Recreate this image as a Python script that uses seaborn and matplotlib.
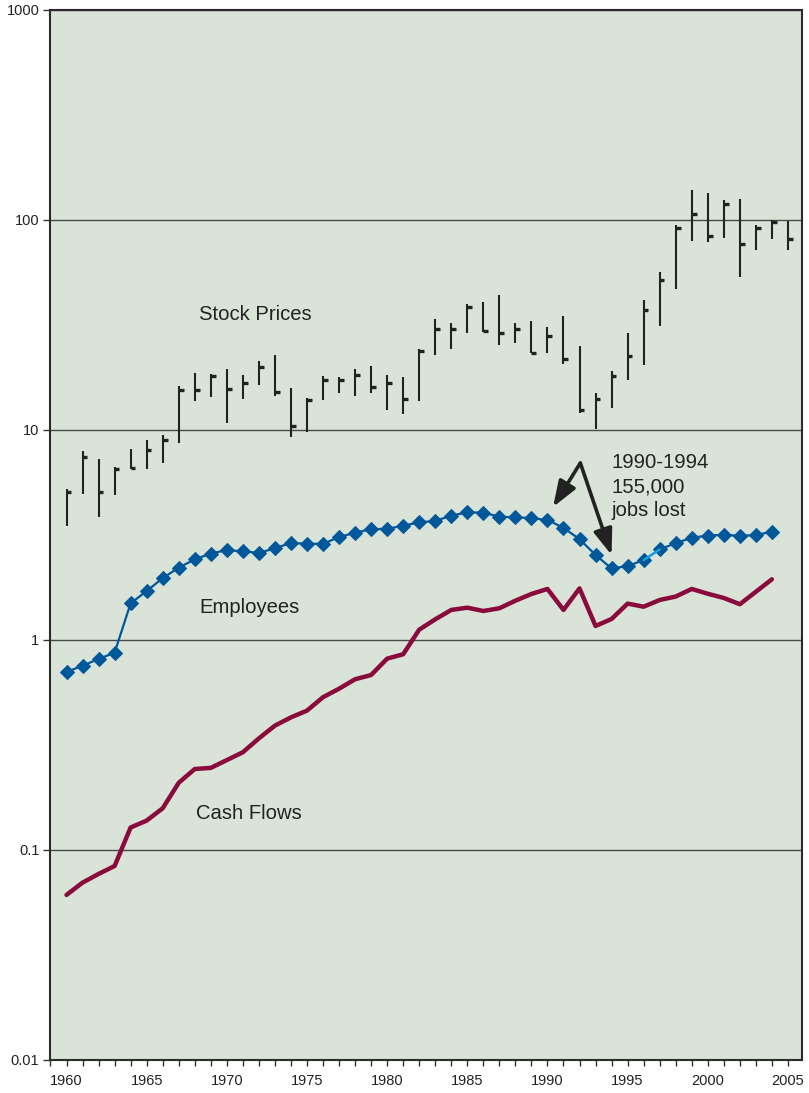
import numpy as np
import pandas as pd
import matplotlib
matplotlib.use("Agg")
import matplotlib.pyplot as plt
from matplotlib.ticker import FixedLocator, MultipleLocator, NullLocator
import seaborn as sns

# ---- data -------------------------------------------------------------
stock_years = list(range(1960, 2006))
stock_high = [5.24, 7.94, 7.27, 6.67, 8.12, 8.96, 9.47, 16.2, 18.7, 18.5,
              19.5, 18.3, 21.3, 22.8, 15.9, 14.2, 18.1, 17.9, 19.5, 20.2,
              18.3, 17.9, 24.3, 33.8, 32.3, 39.8, 40.7, 43.9, 32.3, 33.0,
              30.9, 34.9, 25.1, 15.0, 19.1, 29.0, 41.6, 56.5, 94.6, 139.0,
              134.5, 124.5, 126.0, 94.6, 100.0, 98.9]
stock_low = [3.49, 4.96, 3.85, 4.90, 6.52, 6.52, 6.96, 8.67, 13.7, 14.4,
             10.8, 14.1, 16.4, 14.5, 9.26, 9.78, 13.9, 15.0, 14.5, 15.0,
             12.5, 11.9, 13.7, 22.8, 24.3, 29.0, 29.3, 25.4, 26.0, 23.3,
             23.3, 20.6, 12.1, 10.1, 12.7, 17.3, 20.4, 31.3, 46.9, 79.5,
             78.6, 82.1, 53.5, 71.9, 81.2, 71.9]
stock_close = [5.07, 7.44, 5.07, 6.52, 6.59, 8.03, 8.96, 15.5, 15.5, 18.1,
               15.7, 16.7, 20.0, 15.2, 10.4, 13.9, 17.3, 17.3, 18.3, 16.0,
               16.7, 14.1, 23.8, 30.3, 30.3, 38.5, 29.6, 29.0, 30.3, 23.3,
               28.0, 21.8, 12.5, 14.1, 18.1, 22.5, 37.3, 51.8, 91.6, 107.0,
               83.9, 119.0, 76.9, 91.6, 97.8, 81.2]

emp_years = list(range(1960, 2005))
employees = [0.704, 0.754, 0.812, 0.870, 1.495, 1.71, 1.97, 2.21, 2.42, 2.58,
             2.68, 2.64, 2.60, 2.73, 2.90, 2.87, 2.87, 3.09, 3.24, 3.37,
             3.38, 3.50, 3.63, 3.69, 3.91, 4.05, 4.04, 3.86, 3.84, 3.80,
             3.73, 3.42, 3.02, 2.54, 2.19, 2.25, 2.40, 2.70, 2.89, 3.07,
             3.14, 3.17, 3.13, 3.16, 3.28]

cash_years = list(range(1960, 2003)) + [2004]
cash_flows = [0.0611, 0.0699, 0.0769, 0.0839, 0.128, 0.138, 0.158, 0.209, 0.243, 0.246,
              0.268, 0.292, 0.340, 0.391, 0.428, 0.461, 0.534, 0.586, 0.650, 0.681,
              0.815, 0.855, 1.12, 1.254, 1.39, 1.425, 1.374, 1.416, 1.538, 1.656,
              1.75, 1.39, 1.76, 1.166, 1.259, 1.49, 1.44, 1.55, 1.61, 1.75,
              1.66, 1.585, 1.48, 1.945]

y_ticks = [0.01, 0.1, 1, 10, 100, 1000]
y_tick_labels = ["0.01", "0.1", "1", "10", "100", "1000"]
x_ticks = [1960, 1965, 1970, 1975, 1980, 1985, 1990, 1995, 2000, 2005]

# ---- style ------------------------------------------------------------
sns.set_theme(style="ticks")
plt.rcParams["font.family"] = ["Liberation Sans", "DejaVu Sans"]

BG = "#d9e3d8"
INK = "#222222"
BLUE = "#00589b"
LIGHT_BLUE = "#19a6e3"
MAROON = "#8a0a3c"

fig = plt.figure(figsize=(8.09, 10.93), dpi=100)
ax = fig.add_axes([0.0624, 0.0302, 0.9290, 0.9607])
ax.set_facecolor(BG)
ax.set_yscale("log")
ax.set_ylim(0.01, 1000)
ax.set_xlim(1959.0, 2005.88)

# horizontal rules at each decade
ax.yaxis.set_major_locator(FixedLocator(y_ticks))
ax.yaxis.set_minor_locator(NullLocator())
ax.set_yticklabels(y_tick_labels)
ax.grid(axis="y", which="major", color="#4a4a4a", lw=1.0)
ax.grid(axis="x", visible=False)
ax.set_axisbelow(True)

# stock price high-low bars with closing tick
stock = pd.DataFrame({"year": stock_years, "high": stock_high,
                      "low": stock_low, "close": stock_close})
ax.vlines(stock["year"], stock["low"], stock["high"], color=INK, lw=1.5, zorder=3)
ax.hlines(stock["close"], stock["year"], stock["year"] + 0.3, color=INK, lw=2.4, zorder=3)

# employees
emp = pd.DataFrame({"year": emp_years, "value": employees})
sns.lineplot(data=emp, x="year", y="value", ax=ax, color=BLUE, lw=1.6,
             marker="D", markersize=7.5, markeredgecolor=BLUE, zorder=4)
seg = emp[(emp["year"] >= 1996) & (emp["year"] <= 1997)]
ax.plot(seg["year"], seg["value"], color=LIGHT_BLUE, lw=1.6, zorder=4)

# cash flows
cash = pd.DataFrame({"year": cash_years, "value": cash_flows})
sns.lineplot(data=cash, x="year", y="value", ax=ax, color=MAROON, lw=3.2, zorder=4)

# series labels
lab_kw = dict(fontsize=14.6, color=INK, va="center", ha="left")
ax.text(1968.25, 35.3, "Stock Prices", **lab_kw)
ax.text(1968.3, 1.43, "Employees", **lab_kw)
ax.text(1968.1, 0.150, "Cash Flows", **lab_kw)

# job-loss annotation
ax.text(1994.0, 5.38, "1990-1994\n155,000\njobs lost", fontsize=14.6, color=INK,
        va="center", ha="left", linespacing=1.32)
apex = (1992.05, 6.96)
arrow_kw = dict(arrowstyle="-|>,head_length=0.6,head_width=0.22", lw=2.6,
                color=INK, shrinkA=0, shrinkB=0, mutation_scale=26)
ax.annotate("", xy=(1990.35, 4.30), xytext=apex, arrowprops=arrow_kw, zorder=5)
ax.annotate("", xy=(1994.0, 2.54), xytext=apex, arrowprops=arrow_kw, zorder=5)

# axes cosmetics
ax.set_xlabel("")
ax.set_ylabel("")
ax.xaxis.set_major_locator(FixedLocator(x_ticks))
ax.xaxis.set_minor_locator(MultipleLocator(1))
ax.tick_params(axis="x", which="both", direction="out", length=4, width=1,
               color="#333333", labelsize=10.5, labelcolor=INK, pad=6)
ax.tick_params(axis="y", which="major", direction="out", length=5, width=1,
               color="#333333", labelsize=10.5, labelcolor=INK, pad=3)
for side in ["left", "right", "top", "bottom"]:
    ax.spines[side].set_visible(True)
    ax.spines[side].set_color("#2a2a2a")
    ax.spines[side].set_linewidth(1.5)

fig.patch.set_facecolor("white")
fig.savefig("out.png", dpi=100, facecolor="white")
